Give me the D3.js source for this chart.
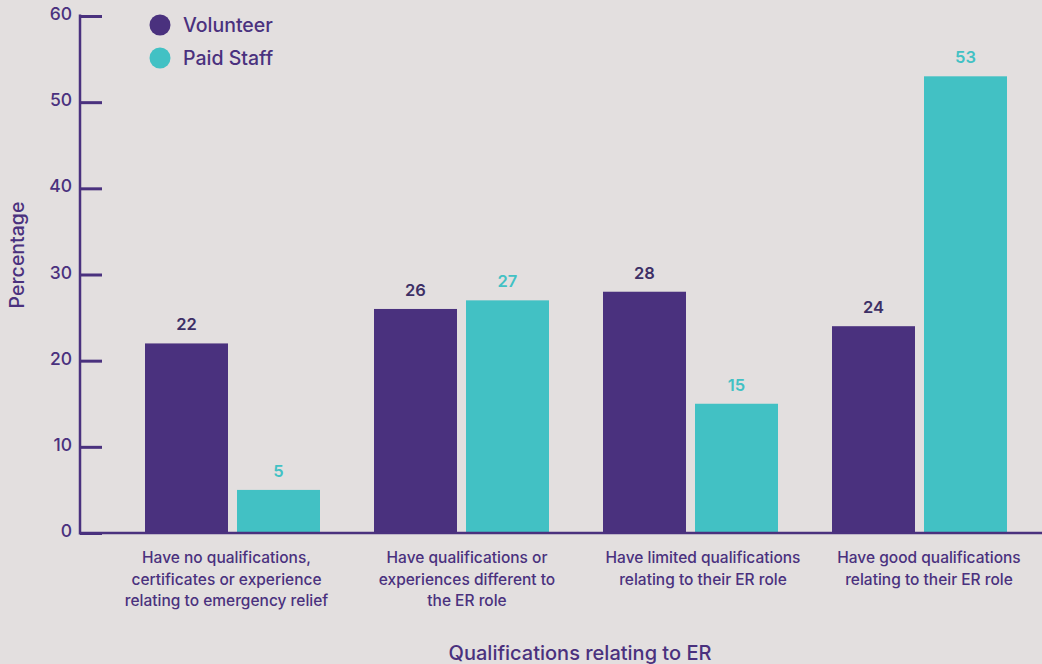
<!DOCTYPE html>
<html>
<head>
<meta charset="utf-8">
<script src="https://cdn.jsdelivr.net/npm/d3@7"></script>
<style>
  html, body { margin: 0; padding: 0; background: #e3dfdf; }
  svg { display: block; }
  text { font-family: Inter, "Open Sans", sans-serif; }
</style>
</head>
<body>
<svg id="chart" width="1042" height="664"></svg>
<script>
const categories = [
  ["Have no qualifications,", "certificates or experience", "relating to emergency relief"],
  ["Have qualifications or", "experiences different to", "the ER role"],
  ["Have limited qualifications", "relating to their ER role"],
  ["Have good qualifications", "relating to their ER role"]
];
const seriesNames = ["Volunteer", "Paid Staff"];
const volunteer = [22, 26, 28, 24];
const paidStaff = [5, 27, 15, 53];
const yTicks = [0, 10, 20, 30, 40, 50, 60];
const xTitle = "Qualifications relating to ER";
const yTitle = "Percentage";

// layout: horizontal nudges of category labels relative to group centres
const labelNudge = [-6, 5.5, 12.5, 9.5];

const colors = ["#4a317e", "#42c1c4"];
const purple = "#4a317e";

const svg = d3.select("#chart");
const W = 1042, H = 664;
const axisX = 80, y0 = 533, yTop = 16;

const catIdx = categories.map((c, i) => i);
const x0 = d3.scaleBand().domain(catIdx).range([118, 1034])
  .paddingInner(54 / 229).paddingOuter(27 / 229);
const x1 = d3.scaleBand().domain([0, 1]).range([0, x0.bandwidth()])
  .paddingInner(2 - x0.bandwidth() / 92).paddingOuter(0);
const y = d3.scaleLinear().domain([0, 60]).range([y0, yTop]);

const data = catIdx.map(i => [volunteer[i], paidStaff[i]]);

// bars
const g = svg.append("g");
const groups = g.selectAll("g.grp").data(data).join("g")
  .attr("transform", (d, i) => `translate(${x0(i)},0)`);
groups.selectAll("rect").data(d => d.map((v, s) => ({v, s}))).join("rect")
  .attr("x", d => x1(d.s))
  .attr("width", x1.bandwidth())
  .attr("y", d => y(d.v))
  .attr("height", d => y0 - y(d.v))
  .attr("fill", d => colors[d.s]);
groups.selectAll("text.val").data(d => d.map((v, s) => ({v, s}))).join("text")
  .attr("class", "val")
  .attr("x", d => x1(d.s) + x1.bandwidth() / 2)
  .attr("y", d => y(d.v) - 13)
  .attr("text-anchor", "middle")
  .attr("font-size", 16.5)
  .attr("font-weight", 600)
  .attr("fill", d => d.s === 0 ? "#3d2f66" : colors[1])
  .text(d => d.v);

// y axis
const yAxis = d3.axisRight(y).tickValues(yTicks).tickSize(22).tickFormat("");
const ya = svg.append("g").attr("transform", `translate(${axisX},0)`).call(yAxis);
ya.select(".domain").remove();
ya.selectAll(".tick line").attr("stroke", purple).attr("stroke-width", 3);
svg.append("line").attr("x1", axisX).attr("x2", axisX).attr("y1", yTop - 1.5).attr("y2", y0 + 1.5)
  .attr("stroke", purple).attr("stroke-width", 2.5);
svg.selectAll("text.ytick").data(yTicks).join("text")
  .attr("class", "ytick")
  .attr("x", 72).attr("y", d => y(d) + 4)
  .attr("text-anchor", "end")
  .attr("font-size", 17.5).attr("font-weight", 500)
  .attr("fill", purple)
  .text(d => d);

// x axis baseline
svg.append("line").attr("x1", axisX).attr("x2", W).attr("y1", y0).attr("y2", y0)
  .attr("stroke", purple).attr("stroke-width", 2.5);

// x category labels
const xl = svg.selectAll("text.xcat").data(categories).join("text")
  .attr("class", "xcat")
  .attr("text-anchor", "middle")
  .attr("font-size", 15.5).attr("font-weight", 500)
  .attr("fill", purple);
xl.each(function(lines, i) {
  const t = d3.select(this);
  lines.forEach((ln, k) => {
    t.append("tspan").attr("x", x0(i) + x0.bandwidth() / 2 + labelNudge[i])
      .attr("y", 563 + k * 21.5).text(ln);
  });
});

// titles
svg.append("text").attr("x", 580).attr("y", 660).attr("text-anchor", "middle")
  .attr("font-size", 20).attr("font-weight", 500).attr("fill", purple).text(xTitle);
svg.append("text").attr("transform", "translate(24,255) rotate(-90)").attr("text-anchor", "middle")
  .attr("font-size", 19.5).attr("font-weight", 500).attr("fill", purple).text(yTitle);

// legend
const lg = svg.selectAll("g.leg").data(seriesNames).join("g")
  .attr("transform", (d, i) => `translate(160,${25 + i * 33})`);
lg.append("circle").attr("r", 10.5).attr("fill", (d, i) => colors[i]);
lg.append("text").attr("x", 23).attr("y", 7).attr("font-size", 19.5).attr("font-weight", 500)
  .attr("fill", purple).text(d => d);
</script>
</body>
</html>
